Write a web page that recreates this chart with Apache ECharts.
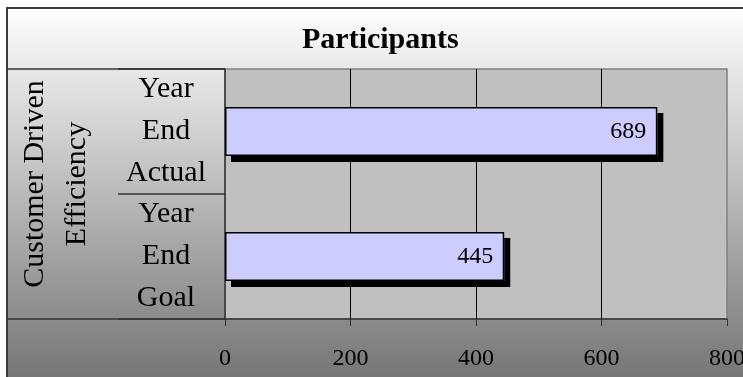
<!DOCTYPE html>
<html>
<head>
<meta charset="utf-8">
<script src="https://cdn.jsdelivr.net/npm/echarts@6/dist/echarts.min.js"></script>
<style>
	html, body { margin: 0; padding: 0; background: #fff; }
	#bar { width: 743px; height: 377px; }
</style>
</head>
<body>
<div id="bar"></div>
<script>
var titleText = 'Participants';
var groupLabel = 'Customer Driven\nEfficiency';
var categories = ['Year\nEnd\nActual', 'Year\nEnd\nGoal'];
var participants = [689, 445];
var xTicks = [0, 200, 400, 600, 800];

var FONT = '"Liberation Serif", "Times New Roman", serif';

var bar = echarts.init(document.getElementById('bar'));

var option = {
	backgroundColor: '#ffffff',
	animation: false,
	title: {
		text: titleText,
		left: 302,
		top: 25,
		padding: 0,
		textStyle: {
			fontFamily: FONT,
			fontSize: 30,
			fontWeight: 'bold',
			color: '#000'
		}
	},
	graphic: [
		{
			// outer frame with the grey fade
			type: 'rect',
			z: -10,
			shape: { x: 7, y: 8, width: 760, height: 400 },
			style: {
				fill: new echarts.graphic.LinearGradient(0, 0, 0, 1, [
					{ offset: 0, color: '#ffffff' },
					{ offset: 0.92, color: '#767676' },
					{ offset: 1, color: '#707070' }
				]),
				stroke: '#3c3c3c',
				lineWidth: 2
			}
		},
		{
			type: 'line',
			shape: { x1: 7, y1: 69, x2: 225, y2: 69 },
			style: { stroke: '#333', lineWidth: 1.5 }
		},
		{
			type: 'line',
			shape: { x1: 7, y1: 319, x2: 225, y2: 319 },
			style: { stroke: '#333', lineWidth: 1.5 }
		},
		{
			type: 'text',
			x: 56,
			y: 184,
			rotation: Math.PI / 2,
			style: {
				text: groupLabel,
				fontFamily: FONT,
				fontSize: 30,
				lineHeight: 42,
				align: 'center',
				verticalAlign: 'middle',
				fill: '#000'
			}
		}
	],
	grid: {
		left: 225,
		right: 16,
		top: 69,
		bottom: 58,
		outerBoundsMode: 'none',
		containLabel: false,
		show: true,
		backgroundColor: '#c0c0c0',
		borderColor: '#808080',
		borderWidth: 1.5
	},
	xAxis: {
		type: 'value',
		min: xTicks[0],
		max: xTicks[xTicks.length - 1],
		interval: xTicks[1] - xTicks[0],
		axisLine: { show: true, lineStyle: { color: '#333', width: 1.5 } },
		axisTick: { show: true, length: 7, lineStyle: { color: '#333' } },
		splitLine: {
			show: true,
			showMinLine: false,
			showMaxLine: false,
			lineStyle: { color: '#000', width: 1 }
		},
		axisLabel: {
			margin: 28,
			fontFamily: FONT,
			fontSize: 24,
			color: '#000',
			showMaxLabel: true,
			hideOverlap: false
		}
	},
	yAxis: {
		type: 'category',
		inverse: true,
		data: categories,
		axisLine: { show: true, lineStyle: { color: '#333', width: 1.5 } },
		axisTick: { show: true, length: 107, lineStyle: { color: '#333', width: 1.5 } },
		axisLabel: {
			interval: 0,
			hideOverlap: false,
			margin: 59,
			align: 'center',
			padding: [6, 0, 0, 0],
			fontFamily: FONT,
			fontSize: 30,
			lineHeight: 42,
			color: '#000'
		}
	},
	series: [{
		// filled bar casting the hard drop shadow
		name: titleText,
		type: 'bar',
		data: participants,
		barWidth: 49,
		itemStyle: {
			color: '#ccccff',
			shadowColor: '#000',
			shadowBlur: 0,
			shadowOffsetX: 6,
			shadowOffsetY: 6
		}
	}, {
		// black outline on top, no shadow
		name: titleText,
		type: 'bar',
		data: participants,
		barWidth: 49,
		barGap: '-100%',
		itemStyle: {
			color: 'rgba(0,0,0,0)',
			borderColor: '#000',
			borderWidth: 1.5
		},
		label: {
			show: true,
			position: 'insideRight',
			distance: 11,
			fontFamily: FONT,
			fontSize: 24,
			color: '#000'
		}
	}]
};

bar.setOption(option);
</script>
</body>
</html>
